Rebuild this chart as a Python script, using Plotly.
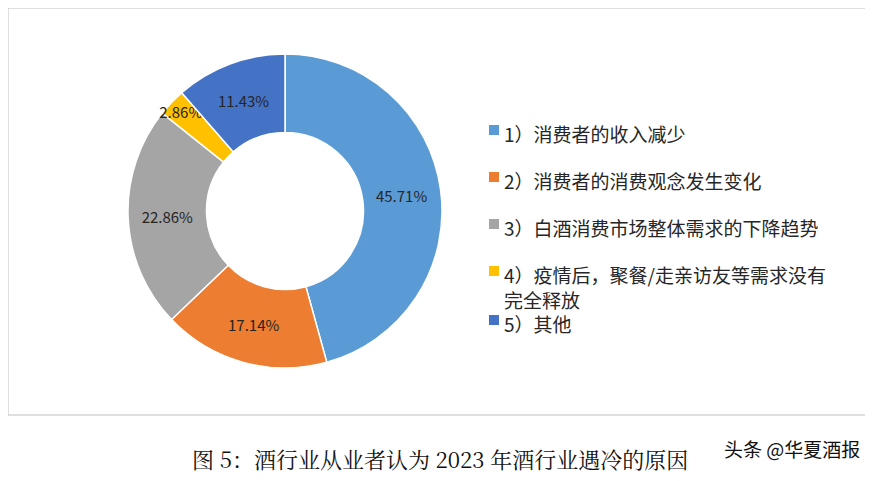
import plotly.graph_objects as go

labels = ["1）消费者的收入减少", "2）消费者的消费观念发生变化", "3）白酒消费市场整体需求的下降趋势",
          "4）疫情后，聚餐/走亲访友等需求没有<br>完全释放", "5）其他"]
values = [45.71, 17.14, 22.86, 2.86, 11.43]
colors = ["#5B9BD5", "#ED7D31", "#A5A5A5", "#FFC000", "#4472C4"]

W, H = 873, 481
OX, OY = 8, 8  # page offset


def px(x):
    return (x - OX) / W


def py(y):
    return 1 - (y - OY) / H


fig = go.Figure()
fig.add_trace(go.Pie(
    labels=labels, values=values, sort=False, direction="clockwise", rotation=0,
    hole=0.5, marker=dict(colors=colors, line=dict(color="white", width=1.5)),
    text=[f"{v:.2f}%" for v in values], textinfo="text", textposition="inside",
    insidetextorientation="horizontal",
    textfont=dict(size=15, color="#262626", family="Noto Sans CJK SC"),
    domain=dict(x=[px(128), px(442)], y=[py(368), py(54)]),
    showlegend=False))

fig.add_shape(type="rect", xref="paper", yref="paper", x0=px(8), x1=px(866), y0=py(415), y1=py(8),
              line=dict(color="#BFBFBF", width=1))

ys = [130, 177, 224, 271, 320]
for lab, c, y in zip(labels, colors, ys):
    fig.add_shape(type="rect", xref="paper", yref="paper", x0=px(489), x1=px(499),
                  y0=py(y + 5), y1=py(y - 5), fillcolor=c, line_width=0)
    fig.add_annotation(x=px(502), y=py(y - 12), xref="paper", yref="paper", text=lab,
                       showarrow=False, xanchor="left", yanchor="top", align="left",
                       font=dict(size=19, color="#262626", family="Noto Sans CJK SC"))

fig.add_annotation(x=px(440), y=py(476), xref="paper", yref="paper",
                   text="图 5：酒行业从业者认为 2023 年酒行业遇冷的原因", showarrow=False,
                   font=dict(size=22, color="#111", family="Noto Serif CJK SC, serif"))
fig.add_annotation(x=px(862), y=py(464), xref="paper", yref="paper", text="头条 @华夏酒报",
                   showarrow=False, xanchor="right", bgcolor="white",
                   font=dict(size=19, color="#111", family="Noto Sans CJK SC"))

fig.update_layout(width=W, height=H, margin=dict(l=0, r=0, t=0, b=0),
                  paper_bgcolor="white", plot_bgcolor="white",
                  uniformtext=dict(minsize=15, mode="show"))
fig.write_html("out.html")
